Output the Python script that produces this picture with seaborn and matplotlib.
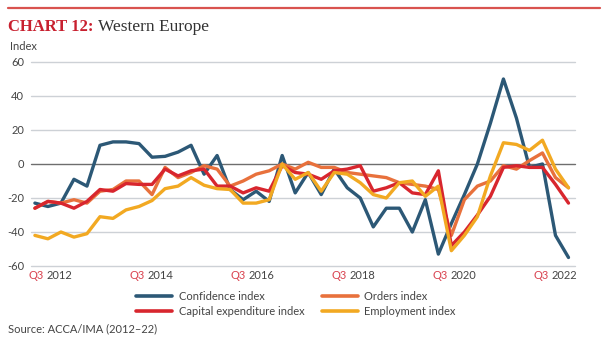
import numpy as np
import pandas as pd
import matplotlib
matplotlib.use("Agg")
import matplotlib.pyplot as plt
import seaborn as sns

# Quarterly index readings, Q2 2012 .. Q3 2022
confidence = [-23, -25, -23, -9, -13, 11, 13, 13, 12, 4, 4.5, 7, 11, -6, 5,
              -15, -21, -16, -22, 5, -17, -5, -18, -3, -14, -20, -37, -26, -26, -40,
              -21, -53, -35, -18, 0, 24, 50, 27, -2, 0, -42, -55]
orders = [-26, -22, -23, -21, -23, -16, -15, -10, -10, -18, -2, -8, -5, -1, -3,
          -13, -10, -6, -4, 0, -3, 1, -2, -2, -5, -6, -7, -8, -11, -12,
          -13, -15, -42, -21, -13, -10, -1, -3, 2, 6.5, -8, -14]
capex = [-26, -22, -23, -26, -22, -15, -16, -11.5, -12, -12, -3, -7, -4, -3, -13,
         -13, -17, -14, -16, -1, -5, -6, -9, -4, -3, -1, -16, -14, -11, -17,
         -18, -4, -48, -40, -30, -19, -2, -1, -2, -2, -12, -23]
employment = [-42, -44, -40, -43, -41, -31, -32, -27, -25, -21.5, -14.5, -13, -8, -12.5, -14.5,
              -15, -23, -23, -21, 0, -9, -5, -16, -5, -6, -11, -18, -20, -11, -10,
              -19, -13, -51, -42, -31, -7, 12.5, 11.5, 8, 14, -3, -14]

series_names = ["Confidence index", "Orders index", "Capital expenditure index", "Employment index"]
series_colors = ["#2C5876", "#E8713C", "#D8262E", "#F2A922"]

tick_years = ["2012", "2014", "2016", "2018", "2020", "2022"]
y_ticks = [60, 40, 20, 0, -20, -40, -60]

quarter = np.arange(len(confidence))
df = pd.DataFrame({
    "quarter": np.tile(quarter, 4),
    "value": confidence + orders + capex + employment,
    "series": np.repeat(series_names, len(quarter)),
})

sns.set_style("white")
plt.rcParams["font.family"] = ["Lato", "DejaVu Sans"]

W, H = 605, 342
fig = plt.figure(figsize=(W / 100, H / 100), dpi=100)
ax = fig.add_axes([31 / W, 1 - 266 / H, 544 / W, 204 / H])

for yv in y_ticks:
    ax.axhline(yv, color="#6E6E6E" if yv == 0 else "#CDD1D6",
               lw=1.0, zorder=0, clip_on=False)

sns.lineplot(data=df, x="quarter", y="value", hue="series", hue_order=series_names,
             palette=series_colors, linewidth=2.4, ax=ax, legend=True)

ax.set_xlim(-0.3, 41.5)
ax.set_ylim(-60, 60)
ax.set_yticks(y_ticks)
ax.set_yticklabels([str(v) for v in y_ticks], fontsize=8, color="#444444")
ax.tick_params(axis="y", length=0, pad=5)
ax.set_xticks([])
ax.set_xlabel("")
ax.set_ylabel("")
for s in ax.spines.values():
    s.set_visible(False)

# Two-tone quarter labels along the bottom
tick_pos = np.linspace(1.15, 40.0, len(tick_years))
for xp, yr in zip(tick_pos, tick_years):
    ax.annotate("Q3", xy=(xp, 0), xycoords=("data", "axes fraction"),
                xytext=(-6.5, -9.5), textcoords="offset pixels",
                ha="right", va="center", fontsize=8, color="#D9424F")
    ax.annotate(yr, xy=(xp, 0), xycoords=("data", "axes fraction"),
                xytext=(-3.5, -9.5), textcoords="offset pixels",
                ha="left", va="center", fontsize=8, color="#444444")

handles, labels = ax.get_legend_handles_labels()
lookup = dict(zip(labels, handles))
order = ["Confidence index", "Capital expenditure index", "Orders index", "Employment index"]
leg = fig.legend([lookup[k] for k in order], order, loc="center",
                 bbox_to_anchor=(296 / W, 1 - 304 / H), ncol=2, frameon=False,
                 fontsize=8, handlelength=3.2, columnspacing=1.6, labelspacing=0.35,
                 handletextpad=0.6, borderpad=0)
for t in leg.get_texts():
    t.set_color("#444444")
for h in leg.legend_handles:
    h.set_linewidth(2.6)
ax.get_legend().remove()

# Header rule and title
fig.add_artist(plt.Line2D([8 / W, 600 / W], [1 - 8 / H, 1 - 8 / H],
                          color="#D9534F", lw=1.6))
head = fig.text(8 / W, 1 - 27 / H, "CHART 12:", fontsize=12, fontweight="bold",
                color="#C8202F", family="Liberation Serif", va="center", ha="left")
renderer = fig.canvas.get_renderer()
head_end = head.get_window_extent(renderer).x1
fig.text((head_end + 5) / W, 1 - 27 / H, "Western Europe", fontsize=12.5,
         color="#333333", family="Liberation Serif", va="center", ha="left")
fig.text(10 / W, 1 - 46 / H, "Index", fontsize=8, color="#444444", va="center")
fig.text(8 / W, 1 - 329 / H, "Source: ACCA/IMA (2012\u201322)", fontsize=8,
         color="#444444", va="center")

fig.savefig("out.png", dpi=100)
